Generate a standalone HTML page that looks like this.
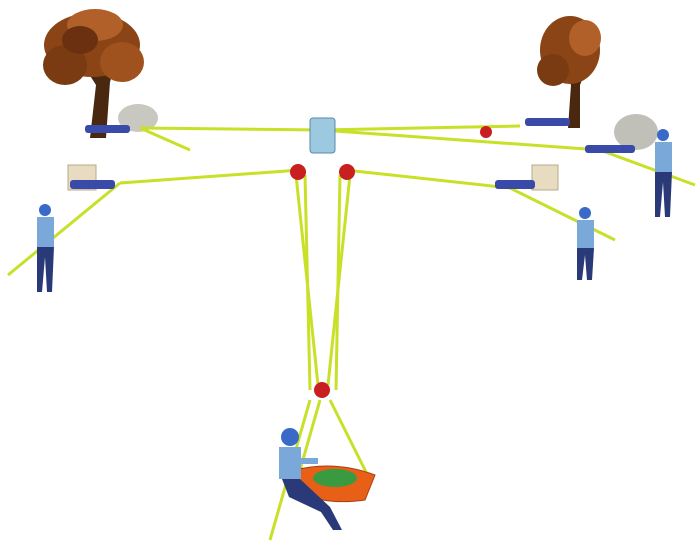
<!DOCTYPE html>
<html><head><meta charset="utf-8"><style>
html,body{margin:0;padding:0;background:#fff;width:700px;height:550px;overflow:hidden}
svg{display:block}
</style></head><body>
<svg width="700" height="550" viewBox="0 0 700 550" xmlns="http://www.w3.org/2000/svg">
<rect width="700" height="550" fill="#fff"/>
<!-- trees -->
<g>
<path d="M90 138 L96 85 L80 60 L92 62 L100 40 L106 62 L120 50 L110 82 L106 138Z" fill="#4a2810"/>
<ellipse cx="92" cy="45" rx="48" ry="32" fill="#8a4416"/>
<ellipse cx="65" cy="65" rx="22" ry="20" fill="#7a3a12"/>
<ellipse cx="122" cy="62" rx="22" ry="20" fill="#a0521e"/>
<ellipse cx="95" cy="25" rx="28" ry="16" fill="#b06028"/>
<ellipse cx="80" cy="40" rx="18" ry="14" fill="#6a3010"/>
</g>
<g>
<path d="M568 128 L571 85 L560 65 L572 68 L575 48 L580 68 L590 60 L580 85 L580 128Z" fill="#4a2810"/>
<ellipse cx="570" cy="50" rx="30" ry="34" fill="#8a4416"/>
<ellipse cx="553" cy="70" rx="16" ry="16" fill="#7a3a12"/>
<ellipse cx="585" cy="38" rx="16" ry="18" fill="#b06028"/>
</g>
<!-- rocks -->
<ellipse cx="138" cy="118" rx="20" ry="14" fill="#c8c8c0"/>
<ellipse cx="636" cy="132" rx="22" ry="18" fill="#c0c0b8"/>
<!-- stumps -->
<rect x="68" y="165" width="28" height="25" fill="#e8dcc0" stroke="#b8a888"/>
<rect x="532" y="165" width="26" height="25" fill="#e8dcc0" stroke="#b8a888"/>
<!-- ropes -->
<g stroke="#c8e028" stroke-width="3" fill="none">
<line x1="322" y1="130" x2="140" y2="128"/>
<line x1="322" y1="130" x2="520" y2="126"/>
<line x1="322" y1="130" x2="600" y2="150"/>
<line x1="600" y1="150" x2="695" y2="185"/>
<line x1="300" y1="170" x2="120" y2="183"/>
<line x1="120" y1="183" x2="8" y2="275"/>
<line x1="345" y1="170" x2="510" y2="188"/>
<line x1="510" y1="188" x2="615" y2="240"/>
<line x1="296" y1="175" x2="318" y2="385"/>
<line x1="350" y1="175" x2="328" y2="385"/>
<line x1="305" y1="175" x2="310" y2="390"/>
<line x1="340" y1="175" x2="336" y2="390"/>
<line x1="310" y1="400" x2="270" y2="540"/>
<line x1="320" y1="400" x2="300" y2="470"/>
<line x1="330" y1="400" x2="370" y2="480"/>
<line x1="140" y1="128" x2="190" y2="150"/>
</g>
<!-- slings -->
<g fill="#3a4aa8">
<rect x="85" y="125" width="45" height="8" rx="3"/>
<rect x="70" y="180" width="45" height="9" rx="3"/>
<rect x="495" y="180" width="40" height="9" rx="3"/>
<rect x="525" y="118" width="45" height="8" rx="3"/>
<rect x="585" y="145" width="50" height="8" rx="3"/>
</g>
<!-- plate & pulleys -->
<rect x="310" y="118" width="25" height="35" rx="3" fill="#9cc8e0" stroke="#5a8aa8"/>
<circle cx="298" cy="172" r="8" fill="#c82020"/>
<circle cx="347" cy="172" r="8" fill="#c82020"/>
<circle cx="486" cy="132" r="6" fill="#c82020"/>
<circle cx="322" cy="390" r="8" fill="#c82020"/>
<!-- basket -->
<path d="M295 470 Q335 460 375 475 L365 500 Q330 505 305 495Z" fill="#e86018" stroke="#a84010"/>
<ellipse cx="335" cy="478" rx="22" ry="9" fill="#3a9a40"/>
<!-- people -->
<g fill="#2a3a78">
<circle cx="45" cy="210" r="6" fill="#3a6ac8"/><rect x="37" y="217" width="17" height="30" fill="#7aa8d8"/><path d="M37 247 h17 l-2 45 h-5 l-2-35 l-3 35 h-5z"/>
<circle cx="585" cy="213" r="6" fill="#3a6ac8"/><rect x="577" y="220" width="17" height="28" fill="#7aa8d8"/><path d="M577 248 h17 l-2 32 h-5 l-2-25 l-3 25 h-5z"/>
<circle cx="663" cy="135" r="6" fill="#3a6ac8"/><rect x="655" y="142" width="17" height="30" fill="#7aa8d8"/><path d="M655 172 h17 l-2 45 h-5 l-2-35 l-3 35 h-5z"/>
<circle cx="290" cy="437" r="9" fill="#3a6ac8"/><rect x="279" y="447" width="22" height="32" fill="#7aa8d8"/>
<rect x="298" y="458" width="20" height="6" fill="#7aa8d8"/>
<path d="M282 479 h18 l30 28 l12 23 h-9 l-12-18 l-32-15z"/>
</g>
</svg>
</body></html>
